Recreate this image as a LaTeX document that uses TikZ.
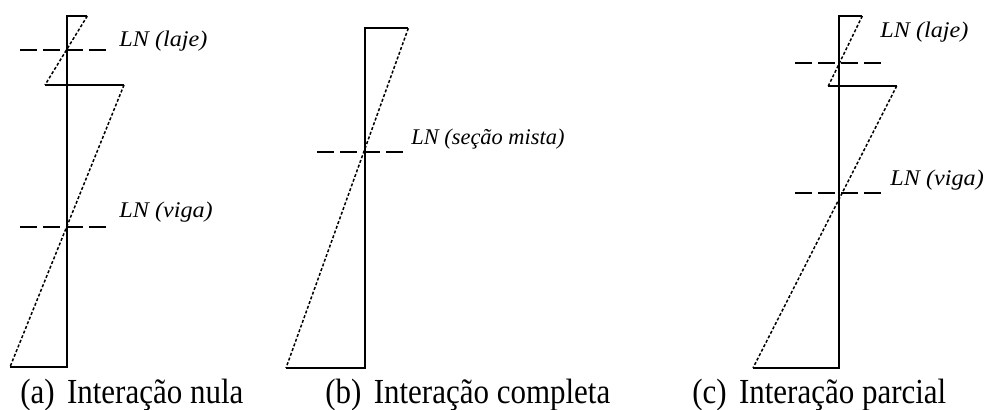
\documentclass[tikz,border=0pt]{standalone}
\usepackage{fontspec}
\setmainfont{Liberation Serif}
\usepackage{graphicx}
\usetikzlibrary{calc}

\tikzset{
  secao/.style={line width=1pt},
  tensao/.style={line width=0.75pt, dash pattern=on 1.5pt off 1pt},
  linhaneutra/.style={line width=1pt, dash pattern=on 8.5pt off 3pt},
  rotulo/.style={anchor=base west, inner sep=0pt, font=\fontsize{11.2}{13}\selectfont\itshape},
  legenda/.style={anchor=base west, inner sep=0pt, font=\fontsize{17.6}{20}\selectfont},
}

\begin{document}
\begin{tikzpicture}[x=0.5pt, y=-0.5pt]
\useasboundingbox (0,0) rectangle (993,410);

% (a) interacao nula
\path
  (66.7,16)  coordinate (a1)
  (87.3,16)  coordinate (a2)
  (45,85)    coordinate (a3)
  (124,85)   coordinate (a4)
  (10,367)   coordinate (a5)
  (66.7,367) coordinate (a6)
  (20,50)    coordinate (a7)
  (108,50)   coordinate (a8)
  (20,227)   coordinate (a9)
  (108,227)  coordinate (a10)
  ;
\draw[secao] (a2) -- (a1) -- (a6) -- (a5);
\draw[secao] (a3) -- (a4);
\draw[tensao] (a2) -- (a3);
\draw[tensao] (a4) -- (a5);
\draw[linhaneutra] (a7) -- (a8);
\draw[linhaneutra] (a9) -- (a10);
\node[rotulo] (lnlajea) at (119,47) {\scalebox{1.08}[1]{LN (laje)}};
\node[rotulo] (lnvigaa) at (119,218) {\scalebox{1.08}[1]{LN (viga)}};

% (b) interacao completa
\path
  (365,28.3)   coordinate (b1)
  (408.3,28.3) coordinate (b2)
  (286,368)    coordinate (b3)
  (365,368)    coordinate (b4)
  (317,152.3)  coordinate (b5)
  (406.7,152.3) coordinate (b6)
  ;
\draw[secao] (b2) -- (b1) -- (b4) -- (b3);
\draw[tensao] (b2) -- (b3);
\draw[linhaneutra] (b5) -- (b6);
\node[rotulo] (lnmista) at (411,145) {\scalebox{1.0}[1]{LN (seção mista)}};

% (c) interacao parcial
\path
  (839.3,16)   coordinate (c1)
  (862.3,16)   coordinate (c2)
  (828.3,86)   coordinate (c3)
  (896.7,86)   coordinate (c4)
  (753,368)    coordinate (c5)
  (839.3,368)  coordinate (c6)
  (795,62.7)   coordinate (c7)
  (883.3,62.7) coordinate (c8)
  (795,193.3)  coordinate (c9)
  (883.3,193.3) coordinate (c10)
  ;
\draw[secao] (c2) -- (c1) -- (c6) -- (c5);
\draw[secao] (c3) -- (c4);
\draw[tensao] (c2) -- (c3);
\draw[tensao] (c4) -- (c5);
\draw[linhaneutra] (c7) -- (c8);
\draw[linhaneutra] (c9) -- (c10);
\node[rotulo] (lnlajec) at (880,38) {\scalebox{1.08}[1]{LN (laje)}};
\node[rotulo] (lnvigac) at (890,186) {\scalebox{1.08}[1]{LN (viga)}};

% legendas
\node[legenda] (lega) at (20,404) {\scalebox{0.88}[1]{(a)\hspace{7pt}Interação nula}};
\node[legenda] (legb) at (325,404) {\scalebox{0.88}[1]{(b)\hspace{7pt}Interação completa}};
\node[legenda] (legc) at (692,404) {\scalebox{0.88}[1]{(c)\hspace{7pt}Interação parcial}};
\end{tikzpicture}
\end{document}
